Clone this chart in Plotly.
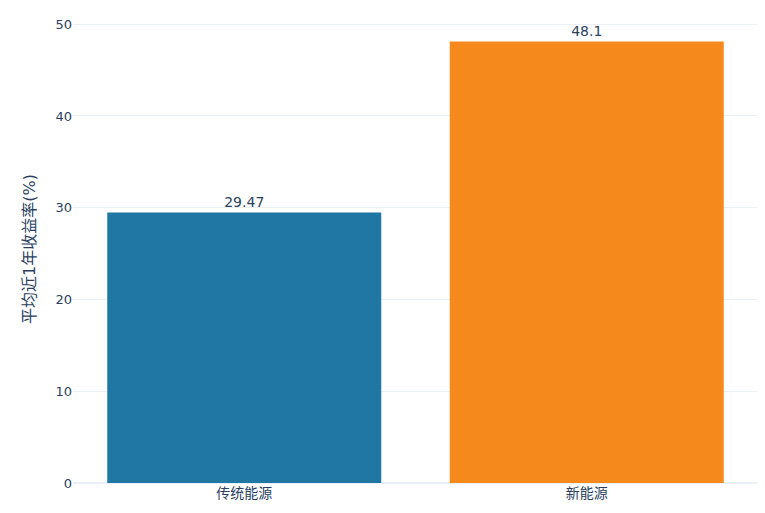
import plotly.graph_objects as go

categories = ["传统能源", "新能源"]
returns = [29.47, 48.1]
colors = ["#2177a3", "#f6891b"]

fig = go.Figure()
fig.add_trace(go.Bar(
    x=categories,
    y=returns,
    text=[str(v) for v in returns],
    textposition="outside",
    textfont=dict(size=14),
    marker_color=colors,
    marker_line_width=0,
    cliponaxis=False,
))

fig.update_layout(
    template="plotly_white",
    width=765,
    height=513,
    margin=dict(l=65, r=15, t=7, b=38),
    font=dict(family="DejaVu Sans, Noto Sans CJK SC, sans-serif", size=14, color="#2a3f5f"),
    yaxis_title=dict(text="平均近1年收益率(%)", font=dict(size=16)),
    showlegend=False,
    bargap=0.2,
)
fig.update_yaxes(range=[0, 51], tickfont_size=13)

fig.write_html("out.html")
